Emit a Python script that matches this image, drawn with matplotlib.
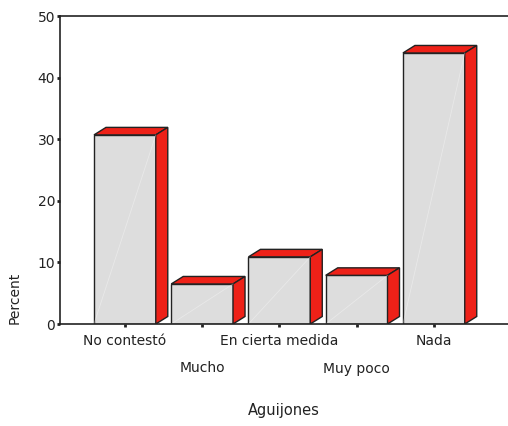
import matplotlib
matplotlib.use("Agg")
import matplotlib.pyplot as plt
from matplotlib.patches import Polygon
import numpy as np

categories = ["No contestó", "Mucho", "En cierta medida", "Muy poco", "Nada"]
percent = [30.7, 6.5, 10.9, 7.9, 44.0]
yticks = [0, 10, 20, 30, 40, 50]

plt.rcParams['font.family'] = ['DejaVu Sans']

fig = plt.figure(figsize=(5.08, 4.26), dpi=100)
ax = fig.add_axes([60/508, 102/426, 448/508, 308/426])

xlim = (-0.84, 4.96)
ylim = (0, 50)
ax.set_xlim(*xlim)
ax.set_ylim(*ylim)

front = "#DDDDDD"
red = "#EE2118"
edge = "#222222"
width = 0.8
# depth in data units (derived from pixel depth of the 3D effect)
px_per_x = 448 / (xlim[1] - xlim[0])
px_per_y = 308 / (ylim[1] - ylim[0])
dx = 12 / px_per_x
dy = 7.5 / px_per_y

x = np.arange(len(categories))
ax.bar(x, percent, width=width, color=front, edgecolor=edge, linewidth=1.0, zorder=3)
for xi, v in zip(x, percent):
    l, r = xi - width/2, xi + width/2
    top = Polygon([(l, v), (r, v), (r + dx, v + dy), (l + dx, v + dy)], closed=True,
                  facecolor=red, edgecolor=edge, linewidth=1.0, zorder=3)
    side = Polygon([(r, 0), (r, v), (r + dx, v + dy), (r + dx, dy)], closed=True,
                   facecolor=red, edgecolor=edge, linewidth=1.0, zorder=3)
    ax.add_patch(top)
    ax.add_patch(side)
    ax.plot([l, r], [0, v], color="white", lw=0.6, alpha=0.35, zorder=4)

ax.spines['right'].set_visible(False)
for s in ['left', 'bottom', 'top']:
    ax.spines[s].set_color(edge)
    ax.spines[s].set_linewidth(1.2)
    ax.spines[s].set_zorder(5)

ax.set_yticks(yticks)
ax.set_yticklabels([str(t) for t in yticks])
ax.set_xticks(x)
ax.set_xticklabels(categories)
ax.tick_params(axis='both', direction='out', length=2.5, width=2, color=edge,
               labelsize=10, labelcolor="#222222")
ax.tick_params(axis='y', pad=1)
ax.tick_params(axis='x', pad=5)
for i, tick in enumerate(ax.xaxis.get_major_ticks()):
    if i % 2 == 1:
        tick.set_pad(24.5)

ax.set_ylabel("Percent", loc="bottom", fontsize=10, color="#222222")
ax.yaxis.set_label_coords(-0.085, 0)
ax.set_xlabel("Aguijones", fontsize=10.5, color="#222222")
ax.xaxis.set_label_coords(0.5, -0.258)

fig.savefig("out.png", dpi=100)
